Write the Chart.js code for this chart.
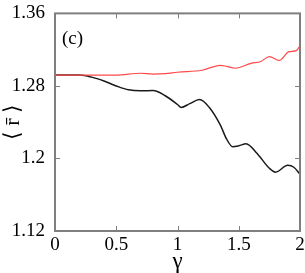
<!DOCTYPE html>
<html>
<head>
<meta charset="utf-8">
<script src="https://cdn.jsdelivr.net/npm/chart.js@4/dist/chart.umd.min.js"></script>
<style>
  html, body { margin: 0; padding: 0; background: #fff; }
  #wrap { width: 305px; height: 273px; }
</style>
</head>
<body>
<div id="wrap"><canvas id="c" width="305" height="273"></canvas></div>
<script>
// データ
const X_TICKS = [0, 0.5, 1, 1.5, 2];
const Y_TICKS = [1.12, 1.2, 1.28, 1.36];
const Y_TICK_LABELS = ['1.12', '1.2', '1.28', '1.36'];

const blackGamma = [0, 0.2, 0.3, 0.4, 0.5, 0.6, 0.7, 0.8, 0.9, 1.0, 1.03, 1.1, 1.18, 1.26, 1.35, 1.4, 1.45, 1.5, 1.56, 1.65, 1.75, 1.8, 1.9, 1.95, 2.0];
const blackR = [1.292, 1.292, 1.2897, 1.2854, 1.28, 1.2757, 1.2746, 1.2749, 1.2692, 1.2595, 1.2562, 1.2605, 1.2649, 1.2562, 1.2368, 1.2216, 1.213, 1.214, 1.2162, 1.2054, 1.1892, 1.1849, 1.1924, 1.1903, 1.1827];

const redGamma = [0, 0.5, 0.7, 0.8, 0.9, 1.0, 1.2, 1.35, 1.4, 1.47, 1.6, 1.68, 1.75, 1.83, 1.91, 1.97, 2.0];
const redR = [1.292, 1.292, 1.294, 1.293, 1.2935, 1.2951, 1.2973, 1.3027, 1.3016, 1.2995, 1.3049, 1.307, 1.3124, 1.3081, 1.3178, 1.3189, 1.3243];

const FONT = 'Liberation Serif';
const AXIS = '#7f7f7f';

// 枠線・内向き目盛り・パネル記号
const framePlugin = {
  id: 'frame',
  afterDatasetsDraw(chart) {
    const a = chart.chartArea, ctx = chart.ctx;
    const xs = chart.scales.x, ys = chart.scales.y;
    ctx.save();
    ctx.strokeStyle = AXIS;
    ctx.lineWidth = 1;
    for (const v of X_TICKS.slice(1, -1)) {
      const px = Math.round(xs.getPixelForValue(v)) + 0.5;
      ctx.beginPath(); ctx.moveTo(px, a.bottom); ctx.lineTo(px, a.bottom - 5); ctx.stroke();
      ctx.beginPath(); ctx.moveTo(px, a.top); ctx.lineTo(px, a.top + 5); ctx.stroke();
    }
    for (const v of Y_TICKS.slice(1, -1)) {
      const py = Math.round(ys.getPixelForValue(v)) + 0.5;
      ctx.beginPath(); ctx.moveTo(a.left, py); ctx.lineTo(a.left + 5, py); ctx.stroke();
      ctx.beginPath(); ctx.moveTo(a.right, py); ctx.lineTo(a.right - 5, py); ctx.stroke();
    }
    ctx.lineWidth = 2;
    ctx.strokeRect(a.left, a.top, a.right - a.left, a.bottom - a.top);
    ctx.fillStyle = '#000';
    ctx.font = '19px "' + FONT + '"';
    ctx.textBaseline = 'middle';
    ctx.fillText('(c)', a.left + 7, a.top + 26);
    ctx.restore();
  }
};

const toPts = (xs, ys) => xs.map((x, i) => ({ x, y: ys[i] }));

new Chart(document.getElementById('c'), {
  type: 'line',
  data: {
    datasets: [
      { data: toPts(redGamma, redR), borderColor: '#ff4a4a', borderWidth: 1.2, pointRadius: 0, cubicInterpolationMode: 'monotone' },
      { data: toPts(blackGamma, blackR), borderColor: '#1a1a1a', borderWidth: 1.5, pointRadius: 0, cubicInterpolationMode: 'monotone' }
    ]
  },
  plugins: [framePlugin],
  options: {
    responsive: false,
    animation: false,
    events: [],
    layout: { padding: { left: 0, right: 5, top: 9, bottom: 0 } },
    plugins: { legend: { display: false }, tooltip: { enabled: false } },
    scales: {
      x: {
        type: 'linear', min: 0, max: 2,
        afterBuildTicks: (s) => { s.ticks = X_TICKS.map(v => ({ value: v })); },
        afterFit: (s) => { s.height = 42; },
        grid: { display: false },
        border: { display: false },
        ticks: { color: '#000', padding: -3, maxRotation: 0, font: { family: FONT, size: 19, lineHeight: 1.0 }, callback: (v) => String(v) },
        title: { display: true, text: 'γ', color: '#000', padding: { top: 0, bottom: 0 }, font: { family: FONT, size: 23, lineHeight: 1.0 } }
      },
      y: {
        type: 'linear', min: 1.12, max: 1.36,
        afterBuildTicks: (s) => { s.ticks = Y_TICKS.map(v => ({ value: v })); },
        afterFit: (s) => { s.width = 55; },
        grid: { display: false },
        border: { display: false },
        ticks: { color: '#000', padding: 2, font: { family: FONT, size: 19 },
          callback: (v) => { const i = Y_TICKS.findIndex(t => Math.abs(t - v) < 1e-9); return i >= 0 ? Y_TICK_LABELS[i] : ''; } },
        title: { display: true, text: '⟨ r̄ ⟩', color: '#000', padding: { top: 0, bottom: 0 }, font: { family: FONT, size: 22 } }
      }
    }
  }
});
</script>
</body>
</html>
